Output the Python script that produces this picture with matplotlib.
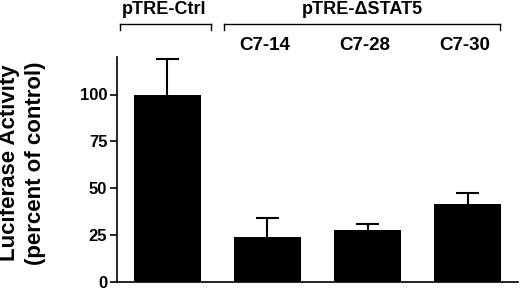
import matplotlib
matplotlib.use("Agg")
import matplotlib.pyplot as plt
import matplotlib.transforms as mtransforms

categories = ["pTRE-Ctrl", "C7-14", "C7-28", "C7-30"]
values = [100, 24, 27.5, 41.5]
errors = [19, 10, 3.5, 6]
yticks = [0, 25, 50, 75, 100]
group_labels = ["pTRE-Ctrl", "pTRE-\u0394STAT5"]

plt.rcParams['font.family'] = ['Liberation Sans', 'DejaVu Sans']
plt.rcParams['font.weight'] = 'bold'

W, H = 520, 290
fig = plt.figure(figsize=(W/100, H/100), dpi=100)
ax = fig.add_axes([117/W, 1-282/H, (518-117)/W, (282-57)/H])

x = list(range(len(categories)))
tops = [v + e for v, e in zip(values, errors)]
ax.vlines(x, values, tops, color='black', lw=1.5, zorder=1)
ax.hlines(tops, [xi - 0.115 for xi in x], [xi + 0.115 for xi in x], color='black', lw=1.5, zorder=1)
ax.bar(x, values, width=0.67, color='black', zorder=2)

ax.set_xlim(-0.5, 3.5)
ax.set_ylim(0, 120)
ax.set_yticks(yticks)
ax.set_yticklabels([str(t) for t in yticks], fontsize=12, fontweight='bold')
ax.set_xticks([])
for s in ['top', 'right']:
    ax.spines[s].set_visible(False)
ax.spines['left'].set_linewidth(1.2)
ax.spines['bottom'].set_linewidth(1.2)
ax.tick_params(axis='y', length=5, width=1.2, pad=2)
# keep the "0" label inside the canvas
ax.get_yticklabels()[0].set_verticalalignment('center_baseline')

fig.text(10/W, 1-163/H, "Luciferase Activity", rotation=90, ha='center', va='center',
         fontsize=16, fontweight='bold')
fig.text(36/W, 1-163/H, "(percent of control)", rotation=90, ha='center', va='center',
         fontsize=16, fontweight='bold')

def bracket(x0, x1, y, drop):
    fig.add_artist(plt.Line2D([x0/W, x1/W], [1-y/H, 1-y/H], color='black', lw=1.0))
    fig.add_artist(plt.Line2D([x0/W, x0/W], [1-y/H, 1-(y+drop)/H], color='black', lw=1.0))
    fig.add_artist(plt.Line2D([x1/W, x1/W], [1-y/H, 1-(y+drop)/H], color='black', lw=1.0))

bracket(120, 211, 24, 6)
bracket(224, 500, 24, 6)
fig.text(164/W, 1-10/H, group_labels[0], ha='center', va='center', fontsize=13, fontweight='bold')
fig.text(362/W, 1-10/H, group_labels[1], ha='center', va='center', fontsize=13, fontweight='bold')

trans = mtransforms.blended_transform_factory(ax.transData, fig.transFigure)
for xi, lab in zip(x[1:], categories[1:]):
    ax.text(xi - 0.03, 1-45/H, lab, transform=trans, ha='center', va='center',
            fontsize=13.5, fontweight='bold')

fig.savefig("out.png", dpi=100)
